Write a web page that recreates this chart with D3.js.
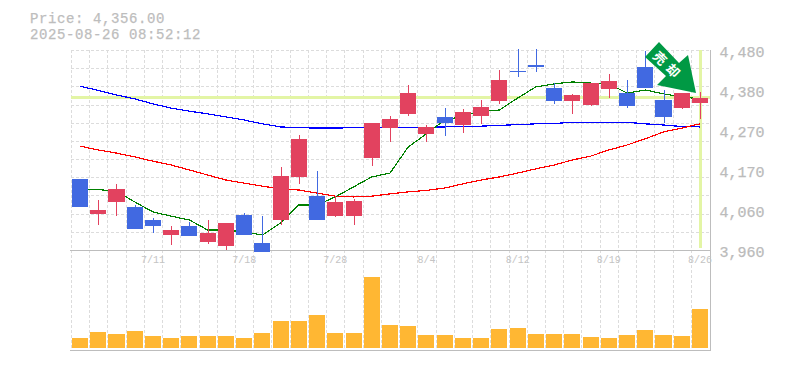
<!DOCTYPE html>
<html><head><meta charset="utf-8">
<script src="https://cdn.jsdelivr.net/npm/d3@7"></script>
<style>html,body{margin:0;padding:0;background:#fff}svg{display:block}
text{font-family:"Liberation Mono",monospace}</style></head><body>
<script>
const dates=["7/7","7/8","7/9","7/10","7/11","7/14","7/15","7/16","7/17","7/18","7/22","7/23","7/24","7/25","7/28","7/29","7/30","7/31","8/1","8/4","8/5","8/6","8/7","8/8","8/12","8/13","8/14","8/15","8/18","8/19","8/20","8/21","8/22","8/25","8/26"];
const openPrice=[4145,4054,4085,4072,4038,3999,4022,3981,3970,4051,3978,4038,4150,4100,4048,4048,4199,4277,4314,4262,4306,4285,4308,4347,4425,4441,4381,4347,4337,4379,4368,4436,4350,4329,4342];
const closePrice=[4072,4064,4119,4015,4022,4012,3996,4004,4030,3999,3955,4152,4249,4038,4085,4087,4290,4301,4368,4280,4290,4319,4332,4402,4423,4436,4347,4363,4394,4399,4334,4381,4306,4368,4356];
const highPrice=[4145,4090,4132,4077,4043,4022,4033,4038,4030,4056,4048,4176,4259,4165,4100,4093,4290,4308,4389,4285,4329,4327,4350,4428,4482,4482,4394,4366,4394,4418,4402,4477,4376,4368,4371];
const lowPrice=[4072,4025,4048,4015,4004,3973,3996,3976,3960,3999,3955,4025,4132,4038,4046,4025,4178,4241,4308,4241,4256,4264,4288,4340,4410,4423,4340,4314,4334,4355,4329,4381,4290,4327,4301];
const maShort=[4119,4117,4113,4085,4059,4048,4038,4012,4012,4007,3999,4030,4077,4077,4098,4124,4150,4160,4228,4262,4298,4308,4321,4324,4355,4384,4392,4397,4394,4392,4368,4376,4366,4358,4353];
const maMid=[4230,4220,4212,4202,4191,4181,4168,4155,4142,4134,4126,4119,4116,4108,4100,4098,4100,4106,4111,4115,4121,4132,4142,4150,4160,4171,4181,4194,4204,4220,4233,4249,4267,4277,4288];
const maLong=[4386,4375,4363,4353,4340,4329,4321,4314,4306,4298,4288,4280,4278,4277,4277,4278,4279,4279,4279,4279,4280,4282,4282,4284,4286,4288,4289,4292,4292,4292,4292,4288,4285,4281,4280];
const volume=[10,16,14,17,12,10,12,12,12,10,15,27,27,33,15,15,71,23,22,13,13,10,10,19,20,14,14,14,11,10,13,18,13,12,39];
const yTicks=[4480,4376,4272,4168,4064,3960];
const yLabels=["4,480","4,380","4,270","4,170","4,060","3,960"];
const xLabelDates=["7/11","7/18","7/28","8/4","8/12","8/19","8/26"];
const lastPrice=4356;
const titleLines=["Price: 4,356.00","2025-08-26 08:52:12"];
const signal="売却";

const W=785,H=370,pLeft=70.5,pRight=710.5,pTop=50,pMid=250,pBottom=350,volBase=348;
const svg=d3.select("body").append("svg").attr("width",W).attr("height",H);
const x=d3.scaleBand().domain(dates).range([70.9,709.1]).paddingInner(0.12).paddingOuter(0.06);
const y=d3.scaleLinear().domain([3960,4480]).range([pMid,pTop]);
const yV=d3.scaleLinear().domain([0,d3.max(volume)]).range([volBase,volBase-71]);
const cx=d=>Math.round(x(d)+x.bandwidth()/2);
const idx=d3.range(dates.length);
const crisp="crispEdges";

// grid
const gridStep=(4480-3960)/11;
const g=svg.append("g").attr("stroke","#dcdcdc").attr("stroke-dasharray","3,2").attr("shape-rendering",crisp);
g.selectAll("line.h").data(d3.range(0,11)).join("line").attr("class","h")
 .attr("x1",pLeft).attr("x2",pRight).attr("y1",d=>Math.round(y(4480-d*gridStep))+0.5).attr("y2",d=>Math.round(y(4480-d*gridStep))+0.5);
g.selectAll("line.v").data(dates).join("line").attr("class","v")
 .attr("x1",d=>Math.round(x(d)-1.1)+0.5).attr("x2",d=>Math.round(x(d)-1.1)+0.5).attr("y1",pTop).attr("y2",pBottom);

// latest price guides
const guide="#e3f5a5";
svg.append("line").attr("x1",pLeft).attr("x2",pRight).attr("y1",y(lastPrice)).attr("y2",y(lastPrice)).attr("stroke",guide).attr("stroke-width",3).attr("shape-rendering",crisp);
svg.append("line").attr("x1",cx(dates[34])+0.5).attr("x2",cx(dates[34])+0.5).attr("y1",pTop).attr("y2",pMid-2).attr("stroke",guide).attr("stroke-width",3).attr("shape-rendering",crisp);

// axes frame
const ax=svg.append("g").attr("stroke","#bdbdbd").attr("shape-rendering",crisp);
ax.append("line").attr("x1",70).attr("x2",pRight).attr("y1",pMid+0.5).attr("y2",pMid+0.5);
ax.append("line").attr("x1",70).attr("x2",pRight).attr("y1",pBottom+0.5).attr("y2",pBottom+0.5);
ax.append("line").attr("x1",pRight).attr("x2",pRight).attr("y1",pTop).attr("y2",pBottom+1);

// moving averages
const line=d3.line().x(i=>x(dates[i])+x.bandwidth()/2);
[[maLong,"#0000ff"],[maMid,"#ff0000"],[maShort,"#008000"]].forEach(([s,c])=>{
  svg.append("path").attr("d",line.y(i=>y(s[i]))(idx)).attr("fill","none").attr("stroke",c).attr("stroke-width",1.2).attr("shape-rendering",crisp);
});

// candles
const UP="#e2425f",DOWN="#4169e1";
const col=i=>closePrice[i]>=openPrice[i]?UP:DOWN;
const c=svg.append("g").attr("shape-rendering",crisp);
c.selectAll("line").data(idx).join("line")
 .attr("x1",i=>cx(dates[i])+0.5).attr("x2",i=>cx(dates[i])+0.5)
 .attr("y1",i=>Math.max(y(highPrice[i]),49)).attr("y2",i=>y(lowPrice[i])).attr("stroke",col);
c.selectAll("rect").data(idx).join("rect")
 .attr("x",i=>x(dates[i])).attr("width",x.bandwidth())
 .attr("y",i=>y(Math.max(openPrice[i],closePrice[i]))).attr("height",i=>Math.abs(y(openPrice[i])-y(closePrice[i])))
 .attr("fill",col);

// volume
svg.append("g").attr("shape-rendering",crisp).selectAll("rect").data(idx).join("rect")
 .attr("x",i=>x(dates[i])).attr("width",x.bandwidth())
 .attr("y",i=>yV(volume[i])).attr("height",i=>volBase-yV(volume[i])).attr("fill","#ffb733");

// axis labels
const yAxis=svg.append("g").attr("transform",`translate(${pRight},0)`)
 .call(d3.axisRight(y).tickValues(yTicks).tickSize(0).tickPadding(9).tickFormat((d,i)=>yLabels[i]));
yAxis.select(".domain").remove();
yAxis.selectAll("text").attr("font-size",15).attr("font-family","Liberation Mono").attr("fill","#bbb").attr("stroke","#bbb").attr("stroke-width",0.25).attr("dy","0.45em");
const xAxis=svg.append("g").attr("transform",`translate(0,${pMid})`)
 .call(d3.axisBottom(x).tickValues(xLabelDates).tickSize(0).tickPadding(6));
xAxis.select(".domain").remove();
xAxis.selectAll("text").attr("font-size",10).attr("font-family","Liberation Mono").attr("fill","#c4c4c4");

// title
svg.selectAll("text.t").data(titleLines).join("text").attr("class","t")
 .attr("x",30).attr("y",(d,i)=>22.5+i*16).attr("font-size",14).attr("letter-spacing",0.6)
 .attr("fill","#bdbdbd").attr("stroke","#bdbdbd").attr("stroke-width",0.25).text(d=>d);

// signal arrow
svg.append("polygon").attr("points","659,42 679,63 688,55 696,93 657,85 666,76 645,57").attr("fill","#009944");
const lbl=[...signal];
svg.selectAll("text.s").data(lbl).join("text").attr("class","s")
 .attr("transform",(d,i)=>`translate(${660+i*13},${58+i*12.5}) rotate(45)`)
 .attr("text-anchor","middle").attr("dy","0.38em").attr("font-size",13).attr("font-weight","bold")
 .attr("fill","#fff").style("font-family","'Noto Sans CJK JP'").text(d=>d);
</script></body></html>
